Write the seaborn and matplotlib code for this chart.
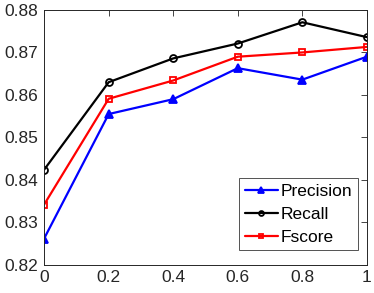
import matplotlib
matplotlib.use("Agg")
import matplotlib.pyplot as plt
import seaborn as sns
import pandas as pd

x = [0, 0.2, 0.4, 0.6, 0.8, 1.0]
precision = [0.8262, 0.8555, 0.8590, 0.8663, 0.8636, 0.8690]
recall = [0.8424, 0.8630, 0.8686, 0.8721, 0.8771, 0.8736]
fscore = [0.8342, 0.8591, 0.8634, 0.8690, 0.8700, 0.8713]
yticks = [0.82, 0.83, 0.84, 0.85, 0.86, 0.87, 0.88]
xticks = [0, 0.2, 0.4, 0.6, 0.8, 1]
xticklabels = ["0", "0.2", "0.4", "0.6", "0.8", "1"]

sns.set_theme(style="white")
plt.rcParams['font.family'] = ['Liberation Sans', 'DejaVu Sans']

fig = plt.figure(figsize=(3.74, 2.93), dpi=100)
ax = fig.add_axes([0.118, 0.096, 0.863, 0.870])

series = [
    ("Precision", precision, "#0000ff", "^", "#0000ff", 6),
    ("Recall", recall, "#000000", "o", "none", 5),
    ("Fscore", fscore, "#ff0000", "s", "none", 4.8),
]
for name, vals, col, mk, mfc, ms in series:
    df = pd.DataFrame({"x": x, "y": vals})
    sns.lineplot(data=df, x="x", y="y", ax=ax, color=col, marker=mk,
                 markersize=ms, markerfacecolor=mfc, markeredgecolor=col,
                 markeredgewidth=1.3, linewidth=1.6, label=name)

ax.set_xlim(0, 1)
ax.set_ylim(0.82, 0.88)
ax.set_xticks(xticks)
ax.set_xticklabels(xticklabels)
ax.set_yticks(yticks)
ax.set_yticklabels([f"{v:.2f}" for v in yticks])
ax.set_xlabel("")
ax.set_ylabel("")
ax.tick_params(direction="in", length=4, width=0.6, top=True, right=True,
               labelsize=12.5, colors="#262626", pad=4)
for s in ax.spines.values():
    s.set_color("#262626")
    s.set_linewidth(0.7)

leg = ax.legend(loc="lower right", bbox_to_anchor=(0.972, 0.059), fontsize=12.5,
                frameon=True, fancybox=False, edgecolor="#262626",
                handlelength=1.9, handletextpad=0.2, markerscale=0.7,
                borderpad=0.3, labelspacing=0.45, borderaxespad=0.0)
leg.get_frame().set_linewidth(0.7)
for t in leg.get_texts():
    t.set_color("#000000")

fig.savefig("out.png", dpi=100)
